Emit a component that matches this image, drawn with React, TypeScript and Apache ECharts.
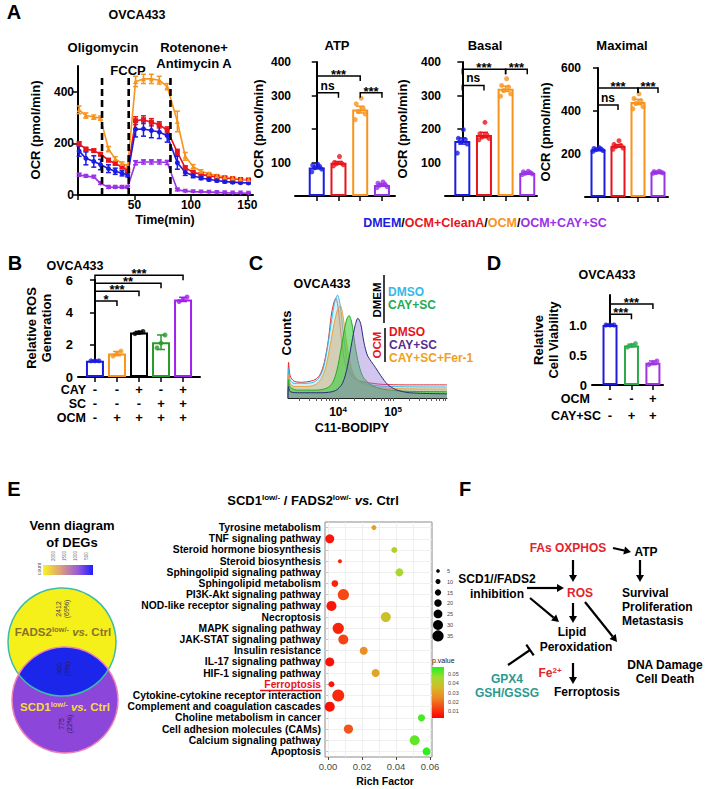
import React, { useEffect, useRef } from 'react';
import * as echarts from 'echarts';

const FONT = "'Liberation Sans', Arial, Helvetica, sans-serif";

// ================= Panel A : Seahorse trace (OVCA433) =================
const seahorseTime = [1, 7, 14, 20, 27, 33, 39, 44, 51, 58, 65, 72, 79, 88, 95, 102, 109, 116, 123, 130, 137, 144, 151];
const ocrDMEM = [170, 142, 130, 118, 102, 92, 84, 78, 255, 256, 250, 244, 230, 125, 88, 75, 66, 60, 56, 52, 50, 48, 47];
const ocrCleanA = [198, 178, 172, 158, 135, 122, 108, 95, 288, 292, 282, 272, 252, 165, 105, 88, 80, 74, 70, 66, 63, 60, 58];
const ocrOCM = [330, 308, 302, 298, 178, 140, 122, 112, 440, 450, 450, 445, 420, 285, 150, 110, 92, 82, 75, 70, 66, 62, 60];
const ocrCAYSC = [78, 73, 70, 45, 30, 30, 30, 30, 125, 128, 128, 128, 126, 20, 15, 13, 12, 11, 10, 9, 8, 8, 7];
const semDMEM = [20, 25, 22, 20, 15, 12, 10, 8, 30, 28, 28, 25, 25, 25, 12, 8, 6, 5, 5, 5, 5, 4, 4];
const semCleanA = [8, 6, 6, 6, 6, 5, 5, 5, 15, 15, 14, 12, 12, 12, 8, 5, 4, 4, 4, 3, 3, 3, 3];
const semOCM = [15, 10, 8, 8, 10, 8, 6, 6, 20, 18, 18, 15, 12, 40, 15, 8, 6, 5, 4, 4, 4, 4, 4];
const semCAYSC = [5, 4, 4, 4, 4, 4, 4, 4, 8, 8, 8, 8, 8, 4, 3, 2, 2, 2, 2, 2, 2, 2, 2];
const injectionTime = [21.3, 44.9, 81.9];

// ================= Panel A : bar charts =================
const groupsA = ['DMEM', 'OCM+CleanA', 'OCM', 'OCM+CAY+SC'];
const atpMean = [85, 99, 258, 33];
const atpSem = [3, 4, 10, 3];
const atpReps = [[72, 80, 84, 88, 92, 95], [90, 93, 96, 98, 100, 118], [228, 245, 252, 262, 275, 292], [25, 28, 32, 35, 38, 42]];
const basalMean = [164, 182, 320, 69];
const basalSem = [9, 8, 8, 2];
const basalReps = [[128, 155, 162, 168, 172, 198], [168, 172, 176, 182, 186, 220], [298, 305, 315, 325, 330, 350], [64, 66, 68, 70, 72, 74]];
const maximalMean = [221, 238, 442, 115];
const maximalSem = [3, 6, 12, 2];
const maximalReps = [[212, 216, 220, 224, 226, 230], [222, 228, 235, 240, 245, 262], [410, 420, 435, 448, 458, 480], [110, 112, 114, 116, 118, 120]];
const atpBrFrom = [0, 0, 2];
const atpBrTo = [1, 2, 3];
const atpBrY = [308, 358, 308];
const atpBrLabel = ['ns', '***', '***'];
const basalBrFrom = [0, 0, 2];
const basalBrTo = [1, 2, 3];
const basalBrY = [330, 378, 378];
const basalBrLabel = ['ns', '***', '***'];
const maximalBrFrom = [0, 0, 2];
const maximalBrTo = [1, 2, 3];
const maximalBrY = [428, 507, 507];
const maximalBrLabel = ['ns', '***', '***'];

// ================= Panel B =================
const rowCAY = ['-', '-', '+', '-', '+'];
const rowSC = ['-', '-', '-', '+', '+'];
const rowOCM = ['-', '+', '+', '+', '+'];
const rosMean = [1.0, 1.45, 2.75, 2.15, 4.8];
const rosErr = [0.03, 0.13, 0.07, 0.45, 0.13];
const rosReps = [[1.0, 1.0, 1.0], [1.3, 1.45, 1.6], [2.68, 2.75, 2.82], [1.8, 2.1, 2.6], [4.67, 4.8, 4.95]];
const rosBrFrom = [0, 0, 0, 0];
const rosBrTo = [1, 2, 3, 4];
const rosBrY = [4.7, 5.3, 5.8, 6.3];
const rosBrLabel = ['*', '***', '**', '***'];

// ================= Panel C : C11-BODIPY histograms (x = log10 intensity) =================
const bodipyOCM_DMSO = [[3.09, 0], [3.1, 22], [3.13, 9], [3.2, 4], [3.35, 3], [3.5, 4], [3.6, 6], [3.68, 11], [3.75, 22], [3.82, 42], [3.88, 68], [3.93, 80], [3.96, 83], [4.0, 74], [4.05, 50], [4.1, 28], [4.18, 14], [4.3, 6], [4.5, 3], [4.8, 1], [5.2, 0.5], [5.98, 0.5]];
const bodipyDMEM_DMSO = [[3.09, 0], [3.1, 18], [3.13, 7], [3.2, 4], [3.4, 4], [3.55, 5], [3.65, 9], [3.73, 18], [3.8, 36], [3.87, 60], [3.93, 79], [3.99, 88], [4.04, 78], [4.09, 54], [4.15, 31], [4.22, 16], [4.35, 7], [4.55, 3], [4.9, 1], [5.98, 0.5]];
const bodipyOCM_Fer1 = [[3.09, 0], [3.1, 14], [3.13, 6], [3.2, 3], [3.45, 3], [3.6, 5], [3.7, 11], [3.78, 22], [3.86, 43], [3.93, 63], [3.99, 76], [4.04, 80], [4.09, 70], [4.14, 50], [4.2, 30], [4.28, 15], [4.4, 7], [4.6, 3], [5.0, 1], [5.98, 0.5]];
const bodipyDMEM_CAYSC = [[3.09, 0], [3.1, 12], [3.13, 5], [3.25, 2], [3.6, 2], [3.8, 4], [3.9, 9], [3.98, 21], [4.05, 40], [4.11, 58], [4.16, 70], [4.2, 73], [4.25, 66], [4.3, 48], [4.36, 30], [4.45, 15], [4.6, 7], [4.8, 3], [5.2, 1], [5.98, 0.5]];
const bodipyOCM_CAYSC = [[3.09, 0], [3.1, 8], [3.13, 3], [3.3, 2], [3.7, 2], [3.95, 4], [4.08, 11], [4.17, 27], [4.25, 50], [4.31, 66], [4.36, 73], [4.41, 68], [4.47, 50], [4.53, 38], [4.6, 32], [4.68, 26], [4.78, 18], [4.9, 10], [5.05, 5], [5.3, 2], [5.98, 1]];

// ================= Panel D =================
const viaOCM = ['-', '-', '+'];
const viaCAYSC = ['-', '+', '+'];
const viaMean = [1.0, 0.66, 0.37];
const viaErr = [0.01, 0.02, 0.03];
const viaReps = [[1.0, 1.0, 1.0], [0.63, 0.66, 0.69], [0.34, 0.37, 0.4]];
const viaBrFrom = [0, 0];
const viaBrTo = [1, 2];
const viaBrY = [1.18, 1.35];
const viaBrLabel = ['***', '***'];

// ================= Panel E =================
const vennCounts = ['2412', '300', '775'];
const vennPercents = ['(69%)', '(9%)', '(22%)'];
const vennScaleTicks = ['2000', '1500', '1000', '500'];
const pathways = [
  'Tyrosine metabolism', 'TNF signaling pathway', 'Steroid hormone biosynthesis', 'Steroid biosynthesis',
  'Sphingolipid signaling pathway', 'Sphingolipid metabolism', 'PI3K-Akt signaling pathway',
  'NOD-like receptor signaling pathway', 'Necroptosis', 'MAPK signaling pathway', 'JAK-STAT signaling pathway',
  'Insulin resistance', 'IL-17 signaling pathway', 'HIF-1 signaling pathway', 'Ferroptosis',
  'Cytokine-cytokine receptor interaction', 'Complement and coagulation cascades', 'Choline metabolism in cancer',
  'Cell adhesion molecules (CAMs)', 'Calcium signaling pathway', 'Apoptosis',
];
const richFactor = [0.027, 0.001, 0.039, 0.007, 0.042, 0.004, 0.009, 0.002, 0.034, 0.006, 0.009, 0.021, 0.001, 0.028, 0.002, 0.006, 0.001, 0.055, 0.012, 0.051, 0.058];
const pValue = [0.03, 0.006, 0.042, 0.008, 0.045, 0.008, 0.014, 0.006, 0.038, 0.008, 0.013, 0.026, 0.005, 0.031, 0.006, 0.009, 0.005, 0.054, 0.016, 0.052, 0.056];
const geneCount = [10, 26, 14, 6, 22, 17, 35, 30, 30, 35, 30, 22, 26, 22, 14, 38, 30, 19, 27, 30, 22];
const sizeLegend = [5, 10, 15, 20, 25, 30, 35];
const pLegend = [0.05, 0.04, 0.03, 0.02, 0.01];

// ================= colours / styles =================
const C_BLUE = '#1c1ce0';
const C_RED = '#e8141c';
const C_ORANGE = '#f7941d';
const C_PURPLE = '#9a32e6';
const C_GREEN = '#2a9a2a';
const colorsA = [C_BLUE, C_RED, C_ORANGE, C_PURPLE];
const colorsB = [C_BLUE, C_ORANGE, '#000000', C_GREEN, '#a020f0'];
const colorsD = [C_BLUE, '#2aaa4a', '#a033e0'];
const pColors = ['#ff0000', '#f44515', '#eb8a25', '#d6b82a', '#a0dc30', '#1ff01f'];
const P_MIN = 0.0024;
const P_MAX = 0.0576;
const DASH_TOP = 455;
const histOffset = [12, 10, 8, 5.5, 3];

const sizeOf = (n: number) => 0.25 * n + 2.5;

const AX_LINE = { show: true, lineStyle: { color: '#000', width: 2 } };
const tickStyle = (vals: number[], len = 5) => ({ show: true, customValues: vals, length: len, lineStyle: { color: '#000', width: 1.5 } });
const labelStyle = { color: '#000', fontWeight: 'bold' as const, fontSize: 12, fontFamily: FONT };

function errorBarSeries(g: number, data: number[][], colors: string[] | string, cap: number, z = 5) {
  return {
    type: 'custom', xAxisIndex: g, yAxisIndex: g, z, silent: true,
    encode: { x: 0, y: [1, 2] },
    data,
    renderItem: (params: any, api: any) => {
      const x = api.value(0);
      const lo = api.coord([x, api.value(1)]);
      const hi = api.coord([x, api.value(2)]);
      const c = Array.isArray(colors) ? colors[params.dataIndex] : colors;
      const st = { stroke: c, lineWidth: 1.5 };
      return {
        type: 'group', children: [
          { type: 'line', shape: { x1: lo[0], y1: lo[1], x2: hi[0], y2: hi[1] }, style: st },
          { type: 'line', shape: { x1: hi[0] - cap, y1: hi[1], x2: hi[0] + cap, y2: hi[1] }, style: st },
          { type: 'line', shape: { x1: lo[0] - cap, y1: lo[1], x2: lo[0] + cap, y2: lo[1] }, style: st },
        ],
      };
    },
  };
}

function bracketSeries(g: number, from: number[], to: number[], ys: number[], labels: string[], leg = 5) {
  return {
    type: 'custom', xAxisIndex: g, yAxisIndex: g, z: 6, silent: true,
    encode: { x: [0, 1], y: 2 },
    data: from.map((f, i) => [f, to[i], ys[i]]),
    renderItem: (params: any, api: any) => {
      const a = api.coord([api.value(0), api.value(2)]);
      const b = api.coord([api.value(1), api.value(2)]);
      const lab = labels[params.dataIndex];
      const star = lab.indexOf('*') >= 0;
      return {
        type: 'group', children: [
          { type: 'polyline', shape: { points: [[a[0], a[1] + leg], [a[0], a[1]], [b[0], b[1]], [b[0], b[1] + leg]] }, style: { stroke: '#000', lineWidth: 1.5, fill: 'none' } },
          { type: 'text', x: (a[0] + b[0]) / 2, y: a[1] + (star ? 5 : -1), style: { text: lab, fill: '#000', font: `bold ${star ? 13 : 12}px ${FONT}`, align: 'center', verticalAlign: 'bottom' } },
        ],
      };
    },
  };
}

function barPanel(g: number, means: number[], sems: number[], reps: number[][], colors: string[], barW: number,
  bf: number[], bt: number[], by: number[], bl: string[], jitter: number[]) {
  return [
    { type: 'bar', xAxisIndex: g, yAxisIndex: g, barWidth: barW, z: 2, data: means.map((m, i) => ({ value: [i, m], itemStyle: { color: '#fff', borderColor: colors[i], borderWidth: 2 } })) },
    { type: 'scatter', xAxisIndex: g, yAxisIndex: g, z: 4, symbolSize: 5, data: reps.flatMap((arr, i) => arr.map((v, k) => ({ value: [i, v], symbolOffset: [jitter[k % jitter.length], 0], itemStyle: { color: colors[i] } }))) },
    errorBarSeries(g, means.map((m, i) => [i, m - sems[i], m + sems[i]]), colors, 4),
    bracketSeries(g, bf, bt, by, bl),
  ];
}

const txt = (x: number, y: number, text: string, o: any = {}) => ({
  type: 'text', x, y, rotation: o.rot || 0, z: o.z || 10,
  style: {
    text, fill: o.color || '#000', font: `${o.weight || 'bold'} ${o.size || 12}px ${FONT}`,
    align: o.align || 'center', verticalAlign: 'middle', lineHeight: o.lh, rich: o.rich,
  },
});

function arrow(x1: number, y1: number, x2: number, y2: number, lw = 2.2) {
  const dx = x2 - x1, dy = y2 - y1, L = Math.hypot(dx, dy);
  const ux = dx / L, uy = dy / L, hl = 7, hw = 4;
  const bx = x2 - ux * hl, by = y2 - uy * hl;
  return [
    { type: 'line', z: 10, shape: { x1, y1, x2: bx, y2: by }, style: { stroke: '#000', lineWidth: lw } },
    { type: 'polygon', z: 10, shape: { points: [[x2, y2], [bx - uy * hw, by + ux * hw], [bx + uy * hw, by - ux * hw]] }, style: { fill: '#000' } },
  ];
}

function lens(c1: number[], r1: number, c2: number[], r2: number) {
  const pts: number[][] = [];
  for (let k = 0; k < 360; k += 2) {
    const t = (k * Math.PI) / 180;
    const p = [c1[0] + r1 * Math.cos(t), c1[1] + r1 * Math.sin(t)];
    if (Math.hypot(p[0] - c2[0], p[1] - c2[1]) <= r2) pts.push(p);
    const q = [c2[0] + r2 * Math.cos(t), c2[1] + r2 * Math.sin(t)];
    if (Math.hypot(q[0] - c1[0], q[1] - c1[1]) <= r1) pts.push(q);
  }
  const cx = pts.reduce((s, p) => s + p[0], 0) / pts.length;
  const cy = pts.reduce((s, p) => s + p[1], 0) / pts.length;
  return pts.sort((a, b) => Math.atan2(a[1] - cy, a[0] - cx) - Math.atan2(b[1] - cy, b[0] - cx));
}

function buildOption() {
  const grids = [
    { left: 78, top: 66, width: 175, height: 129 },
    { left: 295, top: 62, width: 100, height: 134 },
    { left: 445, top: 62, width: 92, height: 134 },
    { left: 585, top: 68, width: 83, height: 129 },
    { left: 78, top: 280, width: 122, height: 97 },
    { left: 288, top: 293, width: 159, height: 105 },
    { left: 592, top: 295, width: 71, height: 90 },
    { left: 325, top: 522, width: 107, height: 235, show: true, borderColor: '#8a8a8a', borderWidth: 1, backgroundColor: '#fff' },
  ].map((g) => ({ ...g, containLabel: false, outerBoundsMode: 'none' }));

  const minorLog: number[] = [];
  for (let d = 3; d <= 5; d++) for (let k = 2; k <= 9; k++) { const v = Math.log10(k * Math.pow(10, d)); if (v > 3.09 && v < 5.98) minorLog.push(v); }

  const xAxis: any[] = [
    { gridIndex: 0, type: 'value', min: 0, max: 155, axisLine: AX_LINE, axisTick: tickStyle([0, 50, 100, 150]), axisLabel: { ...labelStyle, customValues: [50, 100, 150], margin: 4 }, splitLine: { show: false } },
    { gridIndex: 1, type: 'value', min: -1, max: 3.6, axisLine: AX_LINE, axisTick: tickStyle([0, 1, 2, 3]), axisLabel: { show: false }, splitLine: { show: false } },
    { gridIndex: 2, type: 'value', min: -0.8, max: 3.45, axisLine: AX_LINE, axisTick: tickStyle([0, 1, 2, 3]), axisLabel: { show: false }, splitLine: { show: false } },
    { gridIndex: 3, type: 'value', min: -0.65, max: 3.5, axisLine: AX_LINE, axisTick: tickStyle([0, 1, 2, 3]), axisLabel: { show: false }, splitLine: { show: false } },
    {
      gridIndex: 4, type: 'value', min: -0.77, max: 4.77, axisLine: AX_LINE, axisTick: tickStyle([0, 1, 2, 3, 4]),
      axisLabel: { ...labelStyle, fontSize: 13, lineHeight: 14, margin: 5, customValues: [0, 1, 2, 3, 4], formatter: (v: number) => { const i = Math.round(v); return `${rowCAY[i]}\n${rowSC[i]}\n${rowOCM[i]}`; } },
      splitLine: { show: false },
    },
    {
      gridIndex: 5, type: 'value', min: 3.09, max: 5.98, axisLine: { show: true, lineStyle: { color: '#222', width: 1 } },
      axisTick: { show: true, customValues: [4, 5, ...minorLog], length: 3, lineStyle: { color: '#555', width: 1 } },
      axisLabel: { ...labelStyle, fontSize: 12, margin: 7, customValues: [4, 5], formatter: (v: number) => `10{s|${Math.round(v)}}`, rich: { s: { fontSize: 8, fontWeight: 'bold', fontFamily: FONT, color: '#000', verticalAlign: 'top', padding: [0, 0, 6, 0] } } },
      splitLine: { show: false },
    },
    {
      gridIndex: 6, type: 'value', min: -0.84, max: 2.47, axisLine: AX_LINE, axisTick: tickStyle([0, 1, 2]),
      axisLabel: { ...labelStyle, fontSize: 13, lineHeight: 16.7, margin: 5, customValues: [0, 1, 2], formatter: (v: number) => { const i = Math.round(v); return `${viaOCM[i]}\n${viaCAYSC[i]}`; } },
      splitLine: { show: false },
    },
    {
      gridIndex: 7, type: 'value', min: -0.0018, max: 0.0612, axisLine: { show: false },
      axisTick: { show: true, customValues: [0, 0.02, 0.04, 0.06], length: 3, lineStyle: { color: '#444', width: 1 } },
      axisLabel: { color: '#4a4a4a', fontSize: 9.5, fontFamily: FONT, margin: 4, customValues: [0, 0.02, 0.04, 0.06], formatter: (v: number) => v.toFixed(2) },
      splitLine: { show: false },
    },
  ];

  const yAxis: any[] = [
    { gridIndex: 0, type: 'value', min: 0, max: 500, axisLine: AX_LINE, axisTick: tickStyle([0, 200, 400]), axisLabel: { ...labelStyle, customValues: [0, 200, 400], margin: 4 }, splitLine: { show: false } },
    { gridIndex: 1, type: 'value', min: 0, max: 400, axisLine: AX_LINE, axisTick: tickStyle([100, 200, 300, 400]), axisLabel: { ...labelStyle, customValues: [100, 200, 300, 400], margin: 4 }, splitLine: { show: false } },
    { gridIndex: 2, type: 'value', min: 0, max: 400, axisLine: AX_LINE, axisTick: tickStyle([100, 200, 300, 400]), axisLabel: { ...labelStyle, customValues: [100, 200, 300, 400], margin: 4 }, splitLine: { show: false } },
    { gridIndex: 3, type: 'value', min: 0, max: 600, axisLine: AX_LINE, axisTick: tickStyle([200, 400, 600]), axisLabel: { ...labelStyle, customValues: [200, 400, 600], margin: 4 }, splitLine: { show: false } },
    { gridIndex: 4, type: 'value', min: 0, max: 6, axisLine: AX_LINE, axisTick: tickStyle([0, 2, 4, 6]), axisLabel: { ...labelStyle, fontSize: 13, customValues: [0, 2, 4, 6], margin: 5 }, splitLine: { show: false } },
    { gridIndex: 5, type: 'value', min: 0, max: 100, show: false },
    { gridIndex: 6, type: 'value', min: 0, max: 1.5, axisLine: AX_LINE, axisTick: tickStyle([0, 0.5, 1]), axisLabel: { ...labelStyle, fontSize: 13, customValues: [0, 0.5, 1], margin: 5, formatter: (v: number) => (v === 0 ? '0' : v.toFixed(1)) }, splitLine: { show: false } },
    {
      gridIndex: 7, type: 'category', data: pathways, inverse: true, boundaryGap: true, axisLine: { show: false },
      axisTick: { show: true, alignWithLabel: true, length: 3, lineStyle: { color: '#333' } },
      axisLabel: { color: '#000', fontWeight: 'bold', fontSize: 10.3, fontFamily: FONT, margin: 4, interval: 0, formatter: (v: string) => (v === 'Ferroptosis' ? `{f|${v}}` : v), rich: { f: { color: '#e8141c', fontWeight: 'bold', fontSize: 10.3, fontFamily: FONT } } },
      splitLine: { show: false },
    },
  ];

  const series: any[] = [];

  // ---- Panel A line chart
  const traces = [
    { d: ocrCAYSC, e: semCAYSC, c: C_PURPLE, s: 'triangle', r: 180 },
    { d: ocrCleanA, e: semCleanA, c: C_RED, s: 'rect', r: 0 },
    { d: ocrDMEM, e: semDMEM, c: C_BLUE, s: 'circle', r: 0 },
    { d: ocrOCM, e: semOCM, c: C_ORANGE, s: 'triangle', r: 0 },
  ];
  traces.forEach((tr) => {
    series.push({
      type: 'line', xAxisIndex: 0, yAxisIndex: 0, z: 4, data: seahorseTime.map((t, i) => [t, tr.d[i]]),
      symbol: tr.s, symbolSize: 5, symbolRotate: tr.r, showSymbol: true, lineStyle: { color: tr.c, width: 1.6 }, itemStyle: { color: tr.c },
    });
    series.push(errorBarSeries(0, seahorseTime.map((t, i) => [t, tr.d[i] - tr.e[i], tr.d[i] + tr.e[i]]), tr.c, 2.5, 4));
  });
  series.push({
    type: 'custom', xAxisIndex: 0, yAxisIndex: 0, z: 7, silent: true, encode: { x: 0, y: [1, 2] },
    data: injectionTime.map((t) => [t, 0, DASH_TOP]),
    renderItem: (p: any, api: any) => {
      const a = api.coord([api.value(0), api.value(1)]);
      const b = api.coord([api.value(0), api.value(2)]);
      return { type: 'line', shape: { x1: a[0], y1: a[1], x2: b[0], y2: b[1] }, style: { stroke: '#000', lineWidth: 2.6, lineDash: [7, 4] } };
    },
  });

  // ---- Panel A bars
  const jit6 = [-5, 5, -2, 3, -4, 1];
  series.push(...barPanel(1, atpMean, atpSem, atpReps, colorsA, 16, atpBrFrom, atpBrTo, atpBrY, atpBrLabel, jit6));
  series.push(...barPanel(2, basalMean, basalSem, basalReps, colorsA, 16, basalBrFrom, basalBrTo, basalBrY, basalBrLabel, jit6));
  series.push(...barPanel(3, maximalMean, maximalSem, maximalReps, colorsA, 15, maximalBrFrom, maximalBrTo, maximalBrY, maximalBrLabel, jit6));

  // ---- Panel B
  series.push(...barPanel(4, rosMean, rosErr, rosReps, colorsB, 18, rosBrFrom, rosBrTo, rosBrY, rosBrLabel, [-4, 0, 4]));

  // ---- Panel C
  const hists = [
    { d: bodipyOCM_DMSO, line: '#e3262e', fill: 'rgba(255,255,255,0)' },
    { d: bodipyDMEM_DMSO, line: '#35b9e6', fill: 'rgba(140,225,245,0.6)' },
    { d: bodipyOCM_Fer1, line: '#e8a040', fill: 'rgba(214,176,120,0.75)' },
    { d: bodipyDMEM_CAYSC, line: '#22aa22', fill: 'rgba(50,205,50,0.8)' },
    { d: bodipyOCM_CAYSC, line: '#2d2d7a', fill: 'rgba(150,120,215,0.6)' },
  ];
  hists.forEach((h, k) => {
    series.push({
      type: 'line', xAxisIndex: 5, yAxisIndex: 5, z: 3 + k, smooth: 0.3, showSymbol: false, symbol: 'none',
      data: h.d.map((p, i) => [p[0], i === 0 ? 0 : p[1] + histOffset[k]]),
      lineStyle: { color: h.line, width: 1 }, areaStyle: { color: h.fill, origin: 'start' },
    });
  });

  // ---- Panel D
  series.push(...barPanel(6, viaMean, viaErr, viaReps, colorsD, 15, viaBrFrom, viaBrTo, viaBrY, viaBrLabel, [-4, 0, 4]));

  // ---- Panel E dot plot
  series.push({
    type: 'scatter', xAxisIndex: 7, yAxisIndex: 7, z: 1, symbolSize: 0, silent: true,
    data: richFactor.map((r, i) => [r, i]),
    markLine: {
      silent: true, symbol: ['none', 'none'], label: { show: false }, animation: false,
      lineStyle: { color: '#ebebeb', width: 0.8, type: 'solid' },
      data: [...[0, 0.01, 0.02, 0.03, 0.04, 0.05, 0.06].map((v) => ({ xAxis: v })), ...pathways.map((_, i) => ({ yAxis: i }))],
    },
  });
  const scatterIndex = series.length;
  series.push({
    type: 'scatter', xAxisIndex: 7, yAxisIndex: 7, z: 5,
    data: richFactor.map((r, i) => [r, i, pValue[i], geneCount[i]]),
    symbolSize: (v: number[]) => sizeOf(v[3]),
    itemStyle: { opacity: 1 },
  });

  // ---------------- graphic ----------------
  const g: any[] = [];
  // Panel letters
  g.push(txt(14, 12, 'A', { size: 20 }), txt(15, 263, 'B', { size: 20 }), txt(256, 263, 'C', { size: 20 }), txt(494, 263, 'D', { size: 20 }), txt(14, 489, 'E', { size: 20 }), txt(465, 489, 'F', { size: 20 }));
  // Panel A annotations
  g.push(txt(137, 15, 'OVCA433', { size: 12.5 }));
  g.push(txt(103, 47, 'Oligomycin', { size: 13 }), txt(128, 70, 'FCCP', { size: 13 }), txt(194, 47, 'Rotenone+', { size: 13 }), txt(194, 63, 'Antimycin A', { size: 13 }));
  g.push(txt(165, 220, 'Time(min)', { size: 12.5 }));
  g.push(txt(35, 130, 'OCR (pmol/min)', { size: 13, rot: Math.PI / 2 }));
  g.push(txt(258, 129, 'OCR (pmol/min)', { size: 13, rot: Math.PI / 2 }), txt(402, 129, 'OCR (pmol/min)', { size: 13, rot: Math.PI / 2 }), txt(545, 132, 'OCR (pmol/min)', { size: 13, rot: Math.PI / 2 }));
  g.push(txt(337, 45, 'ATP', { size: 13 }), txt(485, 45, 'Basal', { size: 13 }), txt(622, 45, 'Maximal', { size: 13 }));
  const rf = (c: string) => ({ fill: c, fontSize: 12.5, fontWeight: 'bold', fontFamily: FONT });
  g.push(txt(485, 223, `{b|${groupsA[0]}}{k|/}{r|${groupsA[1]}}{k|/}{o|${groupsA[2]}}{k|/}{p|${groupsA[3]}}`, { size: 12.5, rich: { b: rf(C_BLUE), k: rf('#000'), r: rf(C_RED), o: rf(C_ORANGE), p: rf(C_PURPLE) } }));

  // Panel B
  g.push(txt(75, 266, 'OVCA433', { size: 12.5 }));
  g.push(txt(39, 328, 'Relative ROS\nGeneration', { size: 13, rot: Math.PI / 2, lh: 15 }));
  g.push(txt(86, 390, 'CAY', { size: 12.5, align: 'right' }), txt(86, 404, 'SC', { size: 12.5, align: 'right' }), txt(86, 418, 'OCM', { size: 12.5, align: 'right' }));

  // Panel C
  g.push(txt(322, 284, 'OVCA433', { size: 12.5 }));
  g.push(txt(286, 333, 'Counts', { size: 13, rot: Math.PI / 2 }));
  g.push(txt(352, 428, 'C11-BODIPY', { size: 12.5 }));
  g.push({ type: 'line', z: 10, shape: { x1: 384, y1: 275, x2: 384, y2: 323 }, style: { stroke: '#000', lineWidth: 1.5 } });
  g.push({ type: 'line', z: 10, shape: { x1: 385, y1: 328, x2: 385, y2: 362 }, style: { stroke: '#000', lineWidth: 1.5 } });
  g.push(txt(377, 300, 'DMEM', { size: 11.5, rot: Math.PI / 2 }));
  g.push(txt(377, 345, 'OCM', { size: 11.5, rot: Math.PI / 2, color: C_RED }));
  g.push(txt(388, 292, 'DMSO', { size: 12, align: 'left', color: '#35b9e6' }), txt(388, 305, 'CAY+SC', { size: 12, align: 'left', color: '#22aa55' }));
  g.push(txt(389, 332, 'DMSO', { size: 12, align: 'left', color: C_RED }), txt(389, 345, 'CAY+SC', { size: 12, align: 'left', color: '#5b2c8f' }), txt(389, 358, 'CAY+SC+Fer-1', { size: 12, align: 'left', color: '#f0a020' }));

  // Panel D
  g.push(txt(607, 275, 'OVCA433', { size: 12.5 }));
  g.push(txt(546, 340, 'Relative\nCell Viability', { size: 13, rot: Math.PI / 2, lh: 15 }));
  g.push(txt(590, 399, 'OCM', { size: 12.5, align: 'right' }), txt(601, 416, 'CAY+SC', { size: 12.5, align: 'right' }));

  // Panel E : Venn
  g.push(txt(72, 525, 'Venn diagram', { size: 13 }), txt(72, 542, 'of DEGs', { size: 13 }));
  g.push({ type: 'rect', z: 10, shape: { x: 43, y: 565, width: 50, height: 10 }, style: { fill: { type: 'linear', x: 0, y: 0, x2: 1, y2: 0, colorStops: [{ offset: 0, color: '#f8f41c' }, { offset: 0.35, color: '#dca07a' }, { offset: 0.7, color: '#9a5ad8' }, { offset: 1, color: '#1e1eff' }] } } });
  g.push(txt(39, 569, 'count', { size: 5, weight: 'normal', rot: Math.PI / 2, color: '#555' }));
  vennScaleTicks.forEach((t, i) => g.push(txt(53 + i * 11.3, 556, t, { size: 4.5, weight: 'normal', rot: Math.PI / 2, color: '#666' })));
  const cA = [62, 642], rA = 54, cB = [65, 700], rB = 53;
  g.push({ type: 'circle', z: 10, shape: { cx: cA[0], cy: cA[1], r: rA }, style: { fill: '#f6f01a' } });
  g.push({ type: 'circle', z: 10, shape: { cx: cB[0], cy: cB[1], r: rB }, style: { fill: '#8c46da' } });
  g.push({ type: 'polygon', z: 11, shape: { points: lens(cA, rA, cB, rB) }, style: { fill: '#1c26ea' } });
  g.push({ type: 'circle', z: 12, shape: { cx: cA[0], cy: cA[1], r: rA }, style: { fill: 'none', stroke: '#3cbca8', lineWidth: 1.5 } });
  g.push({ type: 'circle', z: 12, shape: { cx: cB[0], cy: cB[1], r: rB }, style: { fill: 'none', stroke: '#ee82b4', lineWidth: 1.5 } });
  const sup = (c: string, fs = 8) => ({ fill: c, fontSize: fs, fontWeight: 'bold', fontFamily: FONT, verticalAlign: 'top', padding: [0, 0, 6, 0] });
  const base = (c: string, style = 'normal', fs = 12.5) => ({ fill: c, fontSize: fs, fontWeight: 'bold', fontStyle: style, fontFamily: FONT });
  const olive = '#86732a', yel = '#f3de38';
  g.push(txt(63, 632, '{a|FADS2}{s|low/-}{i| vs.}{a| Ctrl}', { size: 11.5, z: 13, rich: { a: base(olive, 'normal', 11.5), s: sup(olive, 7.5), i: base(olive, 'italic', 11.5) } }));
  g.push(txt(65, 707, '{a|SCD1}{s|low/-}{i| vs.}{a| Ctrl}', { size: 11.5, z: 13, rich: { a: base(yel, 'normal', 11.5), s: sup(yel, 7.5), i: base(yel, 'italic', 11.5) } }));
  const vt = [[62, 609, '#444'], [63, 669, '#2a1a6a'], [65, 724, '#3a1a5a']];
  vt.forEach((p, i) => g.push(txt(p[0] as number, p[1] as number, `${vennCounts[i]}\n${vennPercents[i]}`, { size: 7, weight: 'normal', rot: Math.PI / 2, color: p[2] as string, lh: 8, z: 13 })));

  // Panel E title + Ferroptosis underline
  g.push(txt(313, 500, '{a|SCD1}{s|low/-}{a| / FADS2}{s|low/-}{i| vs.}{a| Ctrl}', { size: 13, rich: { a: base('#000', 'normal', 13), s: sup('#000'), i: base('#000', 'italic', 13) } }));
  g.push({ type: 'line', z: 10, shape: { x1: 260, y1: 690.5, x2: 322, y2: 690.5 }, style: { stroke: '#e8141c', lineWidth: 1.5 } });
  g.push(txt(385, 781, 'Rich Factor', { size: 10.5 }));
  // size legend
  const sizeY = [571, 581.5, 592.5, 603, 614, 625, 636];
  sizeLegend.forEach((n, i) => {
    g.push({ type: 'circle', z: 10, shape: { cx: 438, cy: sizeY[i], r: sizeOf(n) / 2 }, style: { fill: '#000' } });
    g.push(txt(447, sizeY[i], String(n), { size: 5.5, weight: 'normal', align: 'left', color: '#444' }));
  });
  // p legend
  g.push(txt(432, 660, 'p.value', { size: 7, weight: 'normal', align: 'left', color: '#222' }));
  g.push({ type: 'rect', z: 10, shape: { x: 432, y: 667, width: 12, height: 51 }, style: { fill: { type: 'linear', x: 0, y: 1, x2: 0, y2: 0, colorStops: pColors.map((c, i) => ({ offset: i / (pColors.length - 1), color: c })) } } });
  pLegend.forEach((p) => {
    const y = 667 + ((P_MAX - p) / (P_MAX - P_MIN)) * 51;
    g.push(txt(448, y, p.toFixed(2), { size: 5.5, weight: 'normal', align: 'left', color: '#444' }));
  });

  // Panel F
  const RED = '#e3242b', TEAL = '#2b9a8e';
  g.push(txt(568, 548, 'FAs OXPHOS', { color: RED }), txt(646, 552, 'ATP'));
  g.push(txt(497, 579, 'SCD1//FADS2'), txt(497, 594, 'inhibition'));
  g.push(txt(580, 593, 'ROS', { color: RED }));
  g.push(txt(622, 593, 'Survival', { align: 'left' }), txt(622, 607, 'Proliferation', { align: 'left' }), txt(622, 621, 'Metastasis', { align: 'left' }));
  g.push(txt(572, 632, 'Lipid'), txt(576, 647, 'Peroxidation'));
  g.push(txt(550, 673, '{a|Fe}{s|2+}', { color: RED, rich: { a: { fill: RED, fontSize: 12, fontWeight: 'bold', fontFamily: FONT }, s: sup(RED) } }));
  g.push(txt(587, 692, 'Ferroptosis'));
  g.push(txt(665, 665, 'DNA Damage'), txt(665, 679, 'Cell Death'));
  g.push(txt(507, 679, 'GPX4', { color: TEAL }), txt(507, 693, 'GSH/GSSG', { color: TEAL }));
  g.push(...arrow(613, 548, 631, 552), ...arrow(573, 560, 573, 582), ...arrow(640, 560, 640, 582));
  g.push(...arrow(527, 588, 564, 588), ...arrow(530, 598, 559, 622), ...arrow(573, 603, 573, 623));
  g.push(...arrow(585, 602, 617, 642), ...arrow(573, 663, 573, 684));
  g.push({ type: 'line', z: 10, shape: { x1: 508, y1: 665, x2: 530, y2: 650 }, style: { stroke: '#000', lineWidth: 2.2 } });
  g.push({ type: 'line', z: 10, shape: { x1: 526.3, y1: 644.6, x2: 533.7, y2: 655.4 }, style: { stroke: '#000', lineWidth: 2.2 } });

  return {
    animation: false,
    backgroundColor: '#fff',
    textStyle: { fontFamily: FONT },
    grid: grids,
    xAxis,
    yAxis,
    visualMap: [{ type: 'continuous', show: false, seriesIndex: scatterIndex, dimension: 2, min: P_MIN, max: P_MAX, inRange: { color: pColors } }],
    series,
    graphic: { elements: g },
  };
}

export default function App() {
  const ref = useRef<HTMLDivElement>(null);
  useEffect(() => {
    if (!ref.current) return;
    const chart = echarts.init(ref.current, undefined, { renderer: 'svg' });
    chart.setOption(buildOption() as any);
    return () => chart.dispose();
  }, []);
  return <div ref={ref} style={{ position: 'absolute', left: 0, top: 0, width: 706, height: 789, background: '#fff' }} />;
}
